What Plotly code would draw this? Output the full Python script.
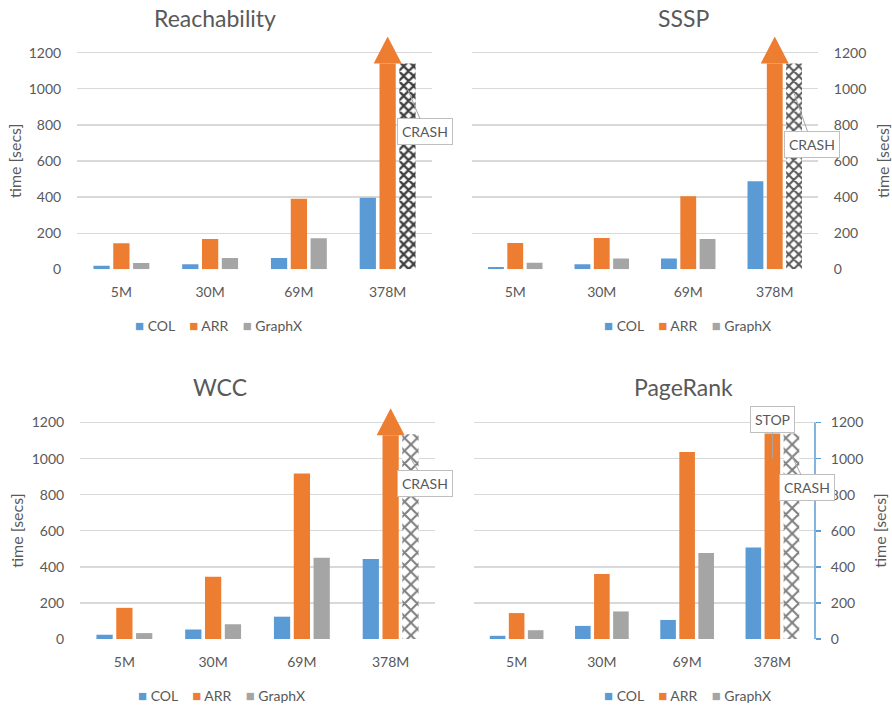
import plotly.graph_objects as go

# ---- data -----------------------------------------------------------------
categories = ["5M", "30M", "69M", "378M"]
series_names = ["COL", "ARR", "GraphX"]
series_colors = ["#5B9BD5", "#ED7D31", "#A5A5A5"]

reach_col = [20, 27, 62, 396]
reach_arr = [144, 168, 390, 1140]
reach_graphx = [35, 62, 172, None]
reach_crash = [None, None, None, 1140]      # GraphX run that crashed

sssp_col = [13, 27, 60, 488]
sssp_arr = [146, 173, 405, 1140]
sssp_graphx = [36, 60, 168, None]
sssp_crash = [None, None, None, 1140]

wcc_col = [24, 53, 124, 444]
wcc_arr = [173, 345, 918, 1130]
wcc_graphx = [33, 82, 451, None]
wcc_crash = [None, None, None, 1135]

pagerank_col = [18, 73, 106, 508]
pagerank_arr = [144, 360, 1037, 1139]       # last value: stopped run
pagerank_graphx = [49, 153, 477, None]
pagerank_crash = [None, None, None, 1139]

y_ticks = [0, 200, 400, 600, 800, 1000, 1200]

# ---- layout constants -------------------------------------------------------
W, H = 892, 714
FONT = "Lato, 'Open Sans', sans-serif"
TEXT = "#595959"
GRID = "#D9D9D9"
AXIS_BLUE = "#5B9BD5"
Y_MAX = 1290
BARGAP = 0.33
BARGROUPGAP = 0.18
SLOT = (1 - BARGAP) / 3          # width of one bar slot in category units


def px(x):
    return x / W


def py(y):
    return 1 - y / H


panels = [
    dict(title="Reachability", data=[reach_col, reach_arr, reach_graphx], crash_vals=reach_crash,
         box=(77, 432, 272.3, 53.3), side="left", title_pos=(215, 18),
         ytitle_x=15, legend_pos=(218, 329), arrow=True,
         crash=dict(y=1000, ax=18, ay=43), stop=None,
         pattern=dict(shape="x", fg="#404040", size=7, solidity=0.55)),
    dict(title="SSSP", data=[sssp_col, sssp_arr, sssp_graphx], crash_vals=sssp_crash,
         box=(472, 818, 272.3, 53.3), side="right", title_pos=(683, 18),
         ytitle_x=883, legend_pos=(687, 329), arrow=True,
         crash=dict(y=975, ax=18, ay=51), stop=None,
         pattern=dict(shape="x", fg="#595959", size=7, solidity=0.5)),
    dict(title="WCC", data=[wcc_col, wcc_arr, wcc_graphx], crash_vals=wcc_crash,
         box=(80, 435, 646.3, 427.3), side="left", title_pos=(220, 391),
         ytitle_x=17, legend_pos=(221, 703), arrow=True,
         crash=dict(y=1005, ax=15, ay=26), stop=None,
         pattern=dict(shape="x", fg="#7F7F7F", size=9, solidity=0.4)),
    dict(title="PageRank", data=[pagerank_col, pagerank_arr, pagerank_graphx], crash_vals=pagerank_crash,
         box=(474, 815, 646.3, 427.3), side="right", title_pos=(683, 391),
         ytitle_x=880, legend_pos=(687, 703), arrow=False,
         crash=dict(y=1020, ax=16, ay=33), stop=dict(y=1000, ax=0, ay=-39),
         pattern=dict(shape="x", fg="#7F7F7F", size=9, solidity=0.4)),
]

fig = go.Figure()
layout = dict(
    width=W, height=H, margin=dict(l=0, r=0, t=0, b=0),
    paper_bgcolor="white", plot_bgcolor="white", showlegend=False,
    barmode="group", bargap=BARGAP, bargroupgap=BARGROUPGAP,
    font=dict(family=FONT, size=14, color=TEXT),
)
shapes = []
annotations = []
x_idx = list(range(len(categories)))


def legend_text():
    parts = []
    for name, color in zip(series_names, series_colors):
        parts.append(f'<span style="color:{color};font-size:15px">■</span> {name}')
    return "&nbsp;&nbsp;&nbsp;&nbsp;".join(parts)


for i, p in enumerate(panels, 1):
    sfx = "" if i == 1 else str(i)
    xref, yref = f"x{sfx}", f"y{sfx}"
    left, right, zero_px, top1200_px = p["box"]
    scale = (zero_px - top1200_px) / 1200
    top_px = zero_px - Y_MAX * scale

    for name, color, vals in zip(series_names, series_colors, p["data"]):
        fig.add_trace(go.Bar(
            x=x_idx, y=vals, name=name, offsetgroup=name,
            marker=dict(color=color, line=dict(width=0)),
            xaxis=xref, yaxis=yref, hoverinfo="skip",
        ))
    # crashed GraphX run: hatched bar in the GraphX slot
    pat = p["pattern"]
    fig.add_trace(go.Bar(
        x=x_idx, y=p["crash_vals"], name="GraphX crash", offsetgroup="GraphX",
        marker=dict(color="white", line=dict(width=0),
                    pattern=dict(shape=pat["shape"], fgcolor=pat["fg"],
                                 bgcolor="white", size=pat["size"],
                                 solidity=pat["solidity"], fillmode="replace")),
        xaxis=xref, yaxis=yref, hoverinfo="skip",
    ))

    layout[f"xaxis{sfx}"] = dict(
        domain=[px(left), px(right)], anchor=yref, range=[-0.5, 3.5],
        tickmode="array", tickvals=x_idx, ticktext=categories,
        showgrid=False, zeroline=False, showline=False, ticks="",
        ticklabelstandoff=13, tickfont=dict(size=14, color=TEXT),
        fixedrange=True,
    )
    # invisible outside ticks keep the labels ~15px away from the plot edge
    yax = dict(
        domain=[py(zero_px), py(top_px)], anchor=xref, range=[0, Y_MAX],
        tickmode="array", tickvals=y_ticks, showgrid=True, gridcolor=GRID,
        gridwidth=1.3, zeroline=False, showline=False, side=p["side"],
        ticks="outside", ticklen=12, tickcolor="rgba(0,0,0,0)",
        tickfont=dict(size=14, color=TEXT), fixedrange=True,
    )
    layout[f"yaxis{sfx}"] = yax

    if i == 4:
        # blue value axis with short tick marks
        shapes.append(dict(type="line", xref=f"{xref} domain", yref=yref,
                           x0=1, x1=1, y0=0, y1=1200,
                           line=dict(color=AXIS_BLUE, width=1.5)))
        layout["yaxis5"] = dict(
            domain=[py(zero_px), py(top_px)], anchor=xref, overlaying=yref,
            range=[0, Y_MAX], side="right", tickmode="array", tickvals=y_ticks,
            ticks="outside", ticklen=5, tickwidth=1.5, tickcolor=AXIS_BLUE,
            showticklabels=False, showgrid=False, zeroline=False,
            showline=False, fixedrange=True,
        )
        # empty trace so the tick-mark axis gets drawn
        fig.add_trace(go.Scatter(x=[], y=[], xaxis=xref, yaxis="y5",
                                 mode="markers", hoverinfo="skip"))

    # legend
    annotations.append(dict(
        xref="paper", yref="paper", x=px(p["legend_pos"][0]), y=py(p["legend_pos"][1]),
        text=legend_text(), showarrow=False, xanchor="center", yanchor="middle",
        font=dict(size=14, color=TEXT),
    ))
    # chart title
    annotations.append(dict(
        xref="paper", yref="paper", x=px(p["title_pos"][0]), y=py(p["title_pos"][1]),
        text=p["title"], showarrow=False, xanchor="center", yanchor="middle",
        font=dict(size=23, color=TEXT, family=FONT),
    ))
    # y axis title
    annotations.append(dict(
        xref="paper", yref="paper", x=px(p["ytitle_x"]),
        y=py((zero_px + top1200_px) / 2),
        text="time [secs]", textangle=-90, showarrow=False,
        xanchor="center", yanchor="middle", font=dict(size=16, color=TEXT),
    ))

    arr_vals = p["data"][1]
    if p["arrow"]:
        # the ARR run exceeds the axis: arrow head on top of its bar
        shapes.append(dict(
            type="path", xref=xref, yref=yref,
            xsizemode="pixel", ysizemode="pixel",
            xanchor=3, yanchor=arr_vals[3],
            path="M-14,0 L14,0 L0,27 Z",
            fillcolor="#ED7D31", line=dict(width=0), layer="above",
        ))

    c = p["crash"]
    annotations.append(dict(
        xref=xref, yref=yref, x=3 + SLOT, y=c["y"], text="CRASH",
        showarrow=True, arrowhead=0, arrowwidth=1, arrowcolor="#A6A6A6",
        ax=c["ax"], ay=c["ay"], bordercolor="#BFBFBF", borderwidth=1,
        borderpad=4, bgcolor="white", font=dict(size=14, color=TEXT),
    ))
    if p["stop"]:
        s = p["stop"]
        annotations.append(dict(
            xref=xref, yref=yref, x=3, y=s["y"], text="STOP",
            showarrow=True, arrowhead=0, arrowwidth=1, arrowcolor="#A6A6A6",
            ax=s["ax"], ay=s["ay"], bordercolor="#BFBFBF", borderwidth=1,
            borderpad=4, bgcolor="white", font=dict(size=14, color=TEXT),
        ))

layout["shapes"] = shapes
layout["annotations"] = annotations
fig.update_layout(**layout)

fig.write_html("out.html", config=dict(displayModeBar=False, staticPlot=True))
